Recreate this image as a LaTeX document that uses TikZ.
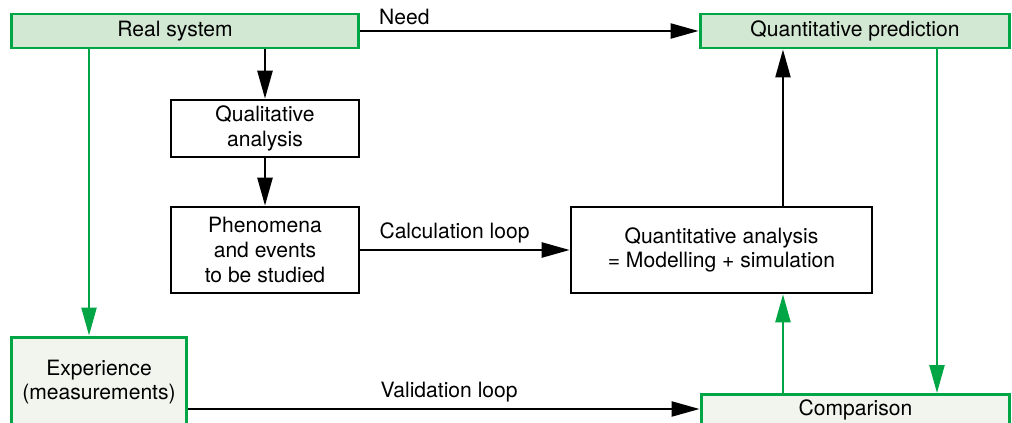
\documentclass[tikz,border=0pt]{standalone}
\usepackage{fontspec}
\setmainfont{TeX Gyre Heros}
\usetikzlibrary{arrows.meta}

\definecolor{boxgreen}{RGB}{0,166,70}
\definecolor{lightgreen}{RGB}{210,232,210}
\definecolor{palegray}{RGB}{242,244,238}

\tikzset{
  blackbox/.style={draw=black, line width=1.5pt, fill=white, align=center, inner sep=2pt},
  greenbox/.style={draw=boxgreen, line width=1.7pt, align=center, inner sep=2pt},
  arr/.style={-{Triangle[length=0.56cm,width=0.3cm]}, line width=1.35pt},
  garr/.style={arr, draw=boxgreen, fill=boxgreen},
}

\begin{document}
\begin{tikzpicture}[x=0.02cm, y=-0.02cm, font=\fontsize{12}{14}\selectfont]
  \useasboundingbox (0,0) rectangle (1012,423);
  \clip (0,0) rectangle (1012,423);

  % boxes
  \node[greenbox, fill=lightgreen, minimum width=6.96cm, minimum height=0.68cm] (real) at (185,31) {Real system\hspace{0.4cm}};
  \node[greenbox, fill=lightgreen, minimum width=6.2cm, minimum height=0.68cm] (pred) at (855,31) {Quantitative prediction};
  \node[blackbox, minimum width=3.76cm, minimum height=1.14cm] (qual) at (265,128.5) {Qualitative\\analysis};
  \node[blackbox, minimum width=3.76cm, minimum height=1.72cm] (phen) at (265,250) {Phenomena\\and events\\to be studied};
  \node[blackbox, minimum width=6.02cm, minimum height=1.72cm] (quant) at (721.5,250) {Quantitative analysis\\= Modelling + simulation};
  \node[greenbox, fill=palegray, minimum width=3.52cm, minimum height=1.8cm] (exper) at (99,382) {Experience\\(measurements)};
  \node[greenbox, fill=palegray, minimum width=6.18cm, text height=0.32cm, text depth=0.5cm, inner sep=0.1cm, anchor=north] (comp) at (855.5,393) {Comparison};

  % black arrows
  \draw[arr] (real) -- (pred) node[pos=0.13, above, inner sep=3pt] {Need};
  \draw[arr] (real.south -| qual.north) -- (qual.north);
  \draw[arr] (qual) -- (phen);
  \draw[arr] (phen) -- (quant) node[pos=0.45, above, inner sep=3pt] {Calculation loop};
  \draw[arr] ([xshift=1.23cm]quant.north) -- ([xshift=1.23cm]quant.north |- pred.south);
  \draw[arr] ([yshift=-0.54cm]exper.east) -- ([yshift=-0.54cm]exper.east -| comp.west)
    node[pos=0.51, above, inner sep=3pt] {Validation loop};

  % green arrows
  \draw[garr] ([xshift=-1.92cm]real.south) -- ([xshift=-1.92cm]real.south |- exper.north);
  \draw[garr] ([xshift=1.23cm]quant.south |- comp.north) -- ([xshift=1.23cm]quant.south);
  \draw[garr] ([xshift=1.64cm]pred.south) -- ([xshift=1.64cm]pred.south |- comp.north);
\end{tikzpicture}
\end{document}
